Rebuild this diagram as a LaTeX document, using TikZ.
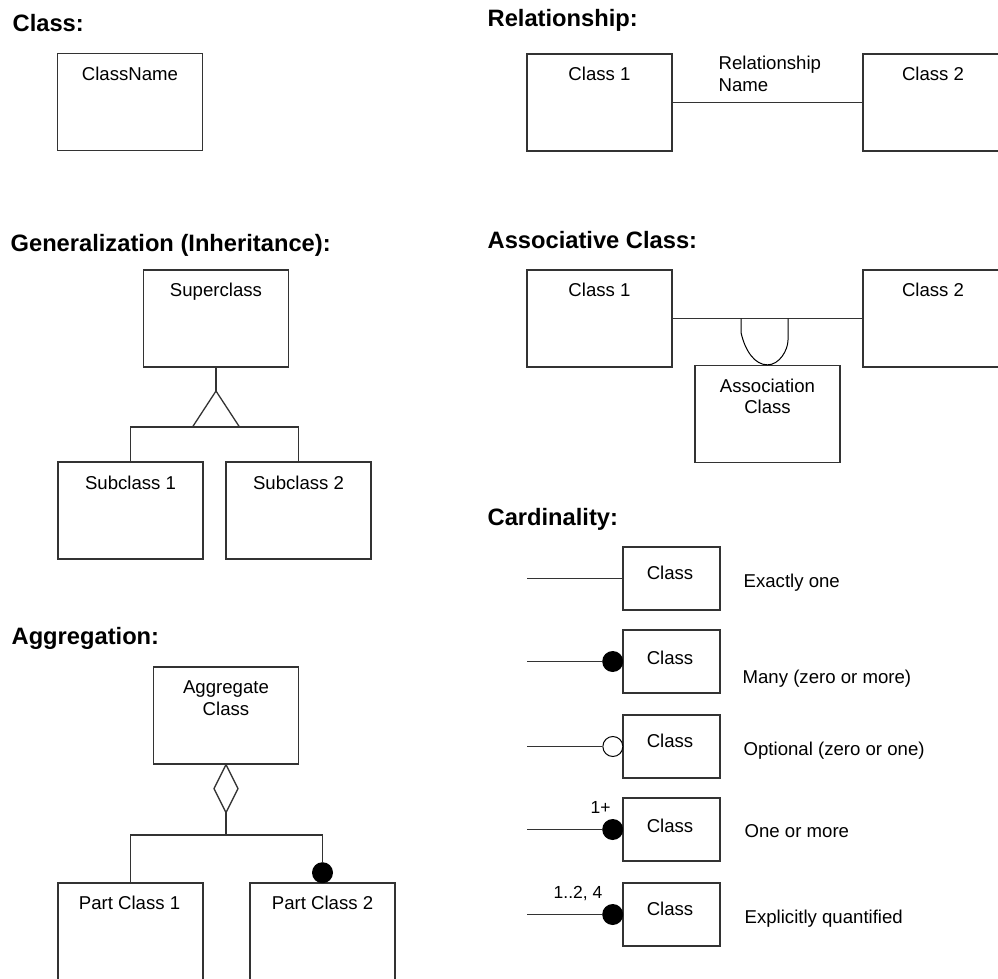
\documentclass[tikz,border=0pt]{standalone}
\usepackage{fontspec}
\setmainfont{Liberation Sans}
\usetikzlibrary{positioning}

\begin{document}
\begin{tikzpicture}[x=1pt, y=-1pt, line width=1.3pt,
  cls/.style={draw=black!80, rectangle, inner sep=0pt, minimum width=145pt, minimum height=97pt},
  card/.style={draw=black!80, rectangle, inner sep=0pt, minimum width=97pt, minimum height=63pt},
  heading/.style={anchor=base west, inner sep=0pt, font=\fontsize{23.7}{28}\selectfont\bfseries},
  lbl/.style={anchor=base, inner sep=0pt, font=\fontsize{18.6}{22}\selectfont},
  cnote/.style={anchor=base west, inner sep=0pt, font=\fontsize{18.6}{22}\selectfont},
  mult/.style={anchor=base west, inner sep=0pt, font=\fontsize{17.5}{20}\selectfont},
  dot/.style={circle, fill=black, inner sep=0pt, minimum size=21pt},
  hole/.style={circle, draw=black, fill=white, line width=1pt, inner sep=0pt, minimum size=20pt}]
\useasboundingbox (0,0) rectangle (998,979);

% class
\node[heading] (hcls) at (12,32) {Class:};
\node[cls] (cn) at (130,102) {};
\node[lbl] (cnt) at (130,81) {ClassName};

% relationship
\node[heading] (hrel) at (487,27) {Relationship:};
\node[cls] (r1) at (599.5,102.5) {};
\node[cls] (r2) at (935.5,102.5) {};
\node[lbl] (r1t) at (599.5,81) {Class 1};
\node[lbl] (r2t) at (933,81) {Class 2};
\node[cnote] (rn1) at (718,70) {Relationship};
\node[cnote] (rn2) at (718,92) {Name};
\draw[black!80] (r1) -- (r2);

% generalization
\node[heading] (hgen) at (10,251) {Generalization (Inheritance):};
\node[cls] (sup) at (216,318.5) {};
\node[lbl] (supt) at (216,296) {Superclass};
\node[cls] (sub1) at (130.5,510.5) {};
\node[cls] (sub2) at (298.5,510.5) {};
\node[lbl] (sub1t) at (130.5,489) {Subclass 1};
\node[lbl] (sub2t) at (298.5,489) {Subclass 2};
\coordinate (gtip) at (216,391);
\coordinate (gbar) at (216,427);
\draw[black!80] (sup) -- (gtip);
\draw[black!80] (gtip) -- ++(-23.5,36) -- ++(47,0) -- cycle;
\draw[black!80] (sub1) |- (gbar) -| (sub2);

% associative class
\node[heading] (hasc) at (487,248) {Associative Class:};
\node[cls] (a1) at (599.5,318.5) {};
\node[cls] (a2) at (935.5,318.5) {};
\node[cls] (ac) at (767.5,414) {};
\node[lbl] (a1t) at (599.5,296) {Class 1};
\node[lbl] (a2t) at (933,296) {Class 2};
\node[lbl] (act1) at (767.5,392) {Association};
\node[lbl] (act2) at (767.5,413) {Class};
\draw[black!80] (a1) -- (a2);
\coordinate (ul) at (741,318.5);
\coordinate (ur) at (788,318.5);
\draw[line width=1pt] (ul) -- ++(0,14) .. controls +(4,18) and +(-13,0) .. (ac.north)
  .. controls +(12,0) and +(0,10) .. (788,340) -- (ur);

% aggregation
\node[heading] (hagg) at (11,644) {Aggregation:};
\node[cls] (agg) at (226,715.5) {};
\node[lbl] (aggt1) at (226,693) {Aggregate};
\node[lbl] (aggt2) at (226,715) {Class};
\node[cls] (p1) at (130.5,931.5) {};
\node[cls] (p2) at (322.5,931.5) {};
\node[lbl] (p1t) at (129.5,909) {Part Class 1};
\node[lbl] (p2t) at (322.5,909) {Part Class 2};
\coordinate (dtip) at (226,812);
\coordinate (abar) at (226,835);
\draw[black!80] (agg.south) -- ++(12,24) -- ++(-12,24) -- ++(-12,-24) -- cycle;
\draw[black!80] (dtip) -- (abar);
\node[dot, anchor=south, yshift=-1.5pt] (pd) at (p2.north) {};
\draw[black!80] (p1) |- (abar) -| (pd);

% cardinality
\node[heading] (hcard) at (487,525) {Cardinality:};
\node[card] (k1) at (671.5,578.5) {};
\node[card] (k2) at (671.5,661.5) {};
\node[card] (k3) at (671.5,746.5) {};
\node[card] (k4) at (671.5,829.5) {};
\node[card] (k5) at (671.5,914.5) {};
\node[lbl] (k1t) at (670,579) {Class};
\node[lbl] (k2t) at (670,664) {Class};
\node[lbl] (k3t) at (670,747) {Class};
\node[lbl] (k4t) at (670,832) {Class};
\node[lbl] (k5t) at (670,915) {Class};
\coordinate (s1) at (527,578.5);
\coordinate (s2) at (527,661.5);
\coordinate (s3) at (527,746.5);
\coordinate (s4) at (527,829.5);
\coordinate (s5) at (527,914.5);
\node[dot, left=-1.5pt of k2.west] (m2) {};
\node[hole, left=-1pt of k3.west] (m3) {};
\node[dot, left=-1.5pt of k4.west] (m4) {};
\node[dot, left=-1.5pt of k5.west] (m5) {};
\draw[black!80] (s1) -- (k1);
\draw[black!80] (s2) -- (m2);
\draw[black!80] (s3) -- (m3);
\draw[black!80] (s4) -- (m4);
\draw[black!80] (s5) -- (m5);
\node[mult] (n4) at (590,813) {1+};
\node[mult] (n5) at (553,898) {1..2, 4};
\node[cnote] (c1) at (743,587) {Exactly one};
\node[cnote] (c2) at (742,683) {Many (zero or more)};
\node[cnote] (c3) at (743,755) {Optional (zero or one)};
\node[cnote] (c4) at (744,837) {One or more};
\node[cnote] (c5) at (744,923) {Explicitly quantified};
\end{tikzpicture}
\end{document}
